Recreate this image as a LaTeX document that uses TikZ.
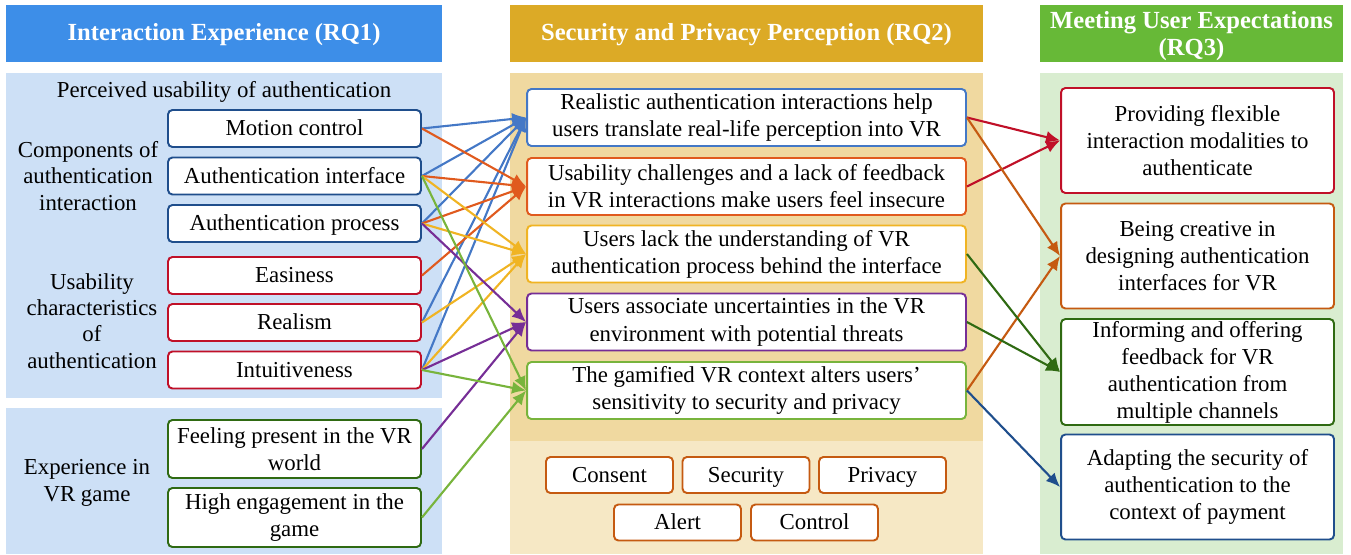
\documentclass[tikz,border=0pt]{standalone}
\usepackage{fontspec}
\setmainfont{Liberation Serif}
\usetikzlibrary{arrows.meta}

\definecolor{hdrblue}{RGB}{61,142,232}
\definecolor{hdrgold}{RGB}{220,170,38}
\definecolor{hdrgreen}{RGB}{103,185,55}
\definecolor{panelblue}{RGB}{205,224,246}
\definecolor{paneltan}{RGB}{240,217,160}
\definecolor{panellight}{RGB}{246,232,197}
\definecolor{panelgreen}{RGB}{217,237,208}
\definecolor{navy}{RGB}{31,78,140}
\definecolor{crimson}{RGB}{192,16,40}
\definecolor{dkgreen}{RGB}{47,106,18}
\definecolor{brown}{RGB}{197,90,17}
\definecolor{mblue}{RGB}{68,120,198}
\definecolor{morange}{RGB}{224,90,30}
\definecolor{myellow}{RGB}{240,180,35}
\definecolor{mpurple}{RGB}{118,46,150}
\definecolor{mgreen}{RGB}{120,180,60}

\tikzset{
  box/.style={draw, rounded corners=2.5pt, fill=white, line width=1.1pt, align=center, inner sep=1pt, font=\fontsize{13}{15.4}\selectfont},
  oneline/.style={text height=8.5pt, text depth=0.5pt},
  lbox/.style={box, minimum width=5.06cm, minimum height=0.74cm},
  mbox/.style={box, minimum width=8.78cm, minimum height=1.14cm},
  sbox/.style={box, oneline, draw=brown, minimum width=2.54cm, minimum height=0.72cm},
  rbox/.style={box, minimum width=5.46cm, minimum height=2.1cm},
  grouptext/.style={align=center, font=\fontsize{13}{15}\selectfont},
  hdr/.style={text=white, align=center, font=\bfseries\fontsize{14}{15.5}\selectfont},
  conn/.style={-{Latex[length=8pt,width=7pt]}, line width=1.2pt}
}

\begin{document}
\begin{tikzpicture}[x=0.02cm, y=-0.02cm]
        \useasboundingbox (0,0) rectangle (1351,554);

        % headers
        \fill[hdrblue] (6,5) rectangle (442,62);
        \fill[hdrgold] (510,5) rectangle (983,62);
        \fill[hdrgreen] (1040,5) rectangle (1343,62);
        \node[hdr] (rq1) at (224,35) {Interaction Experience (RQ1)};
        \node[hdr] (rq2) at (746.5,35) {Security and Privacy Perception (RQ2)};
        \node[hdr] (rq3) at (1191.5,36) {Meeting User Expectations\\(RQ3)};

        % panels
        \fill[panelblue] (6,73) rectangle (442,398);
        \fill[panelblue] (6,408) rectangle (442,554);
        \fill[paneltan] (510,73) rectangle (983,441);
        \fill[panellight] (510,441) rectangle (983,554);
        \fill[panelgreen] (1040,73) rectangle (1343,554);

        % left column
        \node[grouptext] (perceived) at (224,92) {Perceived usability of authentication};
        \node[grouptext] (components) at (88,176) {Components of\\authentication\\interaction};
        \node[grouptext] (characteristics) at (92,321) {Usability\\characteristics\\of\\authentication};
        \node[grouptext] (game) at (87,483) {Experience in\\VR game};

        \node[lbox, oneline, draw=navy] (motion) at (294.5,128.5) {Motion control};
        \node[lbox, oneline, draw=navy] (interface) at (294.5,176) {Authentication interface};
        \node[lbox, oneline, draw=navy] (process) at (294.5,223.5) {Authentication process};
        \node[lbox, oneline, draw=crimson] (easiness) at (294.5,275.5) {Easiness};
        \node[lbox, oneline, draw=crimson] (realism) at (294.5,322.5) {Realism};
        \node[lbox, oneline, draw=crimson] (intuitive) at (294.5,370) {Intuitiveness};
        \node[lbox, draw=dkgreen, minimum height=1.16cm] (present) at (294.5,449) {Feeling present in the VR\\world};
        \node[lbox, draw=dkgreen, minimum height=1.18cm] (engage) at (294.5,517.5) {High engagement in the\\game};

        % middle column
        \node[mbox, draw=mblue] (realistic) at (746.5,117.5) {Realistic authentication interactions help\\users translate real-life perception into VR};
        \node[mbox, draw=morange] (challenge) at (746.5,186.5) {Usability challenges and a lack of feedback\\in VR interactions make users feel insecure};
        \node[mbox, draw=myellow] (lack) at (746.5,254) {Users lack the understanding of VR\\authentication process behind the interface};
        \node[mbox, draw=mpurple] (uncertain) at (746.5,322) {Users associate uncertainties in the VR\\environment with potential threats};
        \node[mbox, draw=mgreen] (gamified) at (746.5,390.5) {The gamified VR context alters users'\\sensitivity to security and privacy};

        \node[sbox] (consent) at (609.5,475) {Consent};
        \node[sbox] (security) at (746,475) {Security};
        \node[sbox] (privacy) at (882.5,475) {Privacy};
        \node[sbox] (alert) at (677.5,522.5) {Alert};
        \node[sbox] (control) at (814.5,522.5) {Control};

        % right column
        \node[rbox, draw=crimson] (flexible) at (1197.5,140.5) {Providing flexible\\interaction modalities to\\authenticate};
        \node[rbox, draw=brown] (creative) at (1197.5,256) {Being creative in\\designing authentication\\interfaces for VR};
        \node[rbox, draw=dkgreen, minimum height=2.12cm] (inform) at (1197.5,372) {Informing and offering\\feedback for VR\\authentication from\\multiple channels};
        \node[rbox, draw=navy] (adapt) at (1197.5,487) {Adapting the security of\\authentication to the\\context of payment};

        % RQ1 -> RQ2
        \draw[conn, mblue] (motion.east) -- (realistic.west);
        \draw[conn, mblue] (interface.east) -- (realistic.west);
        \draw[conn, mblue] (process.east) -- (realistic.west);
        \draw[conn, mblue] (realism.east) -- (realistic.west);
        \draw[conn, mblue] (intuitive.east) -- (realistic.west);

        \draw[conn, morange] (motion.east) -- (challenge.west);
        \draw[conn, morange] (interface.east) -- (challenge.west);
        \draw[conn, morange] (process.east) -- (challenge.west);
        \draw[conn, morange] (easiness.east) -- (challenge.west);

        \draw[conn, myellow] (interface.east) -- (lack.west);
        \draw[conn, myellow] (process.east) -- (lack.west);
        \draw[conn, myellow] (realism.east) -- (lack.west);
        \draw[conn, myellow] (intuitive.east) -- (lack.west);

        \draw[conn, mpurple] (process.east) -- (uncertain.west);
        \draw[conn, mpurple] (intuitive.east) -- (uncertain.west);
        \draw[conn, mpurple] (present.east) -- (uncertain.west);

        \draw[conn, mgreen] (interface.east) -- (gamified.west);
        \draw[conn, mgreen] (intuitive.east) -- (gamified.west);
        \draw[conn, mgreen] (engage.east) -- (gamified.west);

        % RQ2 -> RQ3
        \draw[conn, crimson] (realistic.east) -- (flexible.west);
        \draw[conn, crimson] (challenge.east) -- (flexible.west);
        \draw[conn, brown] (realistic.east) -- (creative.west);
        \draw[conn, brown] (gamified.east) -- (creative.west);
        \draw[conn, dkgreen] (lack.east) -- (inform.west);
        \draw[conn, dkgreen] (uncertain.east) -- (inform.west);
        \draw[conn, navy] (gamified.east) -- (adapt.west);
    \end{tikzpicture}
\end{document}
